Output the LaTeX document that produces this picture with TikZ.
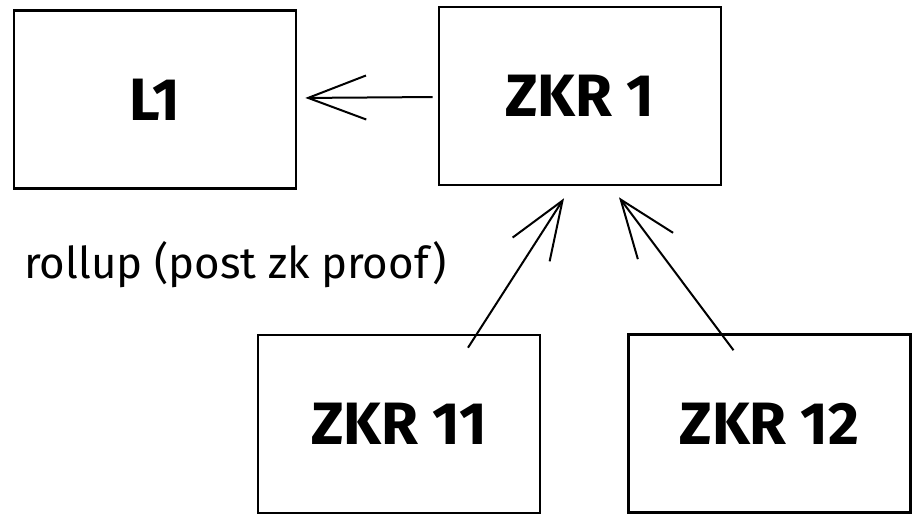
\documentclass[tikz,border=0pt]{standalone}
\usepackage{fontspec}
\setmainfont{Fira Sans}
\usetikzlibrary{arrows.meta,calc}
\begin{document}
\begin{tikzpicture}[x=1bp,y=-1bp,
  box/.style={draw=black,line width=2.6bp,minimum width=282bp,minimum height=178bp,inner sep=0pt,font=\fontsize{60}{64}\selectfont\bfseries},
  conn/.style={draw=black,line width=2bp,-{Straight Barb[length=58bp,width=44bp,line width=2bp]}},
  lbl/.style={font=\fontsize{44}{48}\selectfont,inner sep=0pt,anchor=west}]
\useasboundingbox (0,0) rectangle (912,515);
\node[box] (l1) at (155,99.5) {L1};
\node[box] (zkr1) at (580,96) {ZKR 1};
\node[box] (zkr11) at (399,424) {ZKR 11};
\node[box] (zkr12) at (769.5,423.5) {ZKR 12};
\node[lbl] (rollup) at (24,265) {rollup (post zk proof)};
\coordinate (s11) at ($(zkr11.north)+(69,14)$);
\coordinate (t11) at ($(zkr1.south)+(-16,12)$);
\coordinate (s12) at ($(zkr12.north)+(-36,17)$);
\coordinate (t12) at ($(zkr1.south)+(39,11)$);
\draw[conn,shorten <=5bp,shorten >=8bp] (zkr1.west |- 0,97) -- (l1.east |- 0,98);
\draw[conn] (s11) -- (t11);
\draw[conn] (s12) -- (t12);
\end{tikzpicture}
\end{document}
